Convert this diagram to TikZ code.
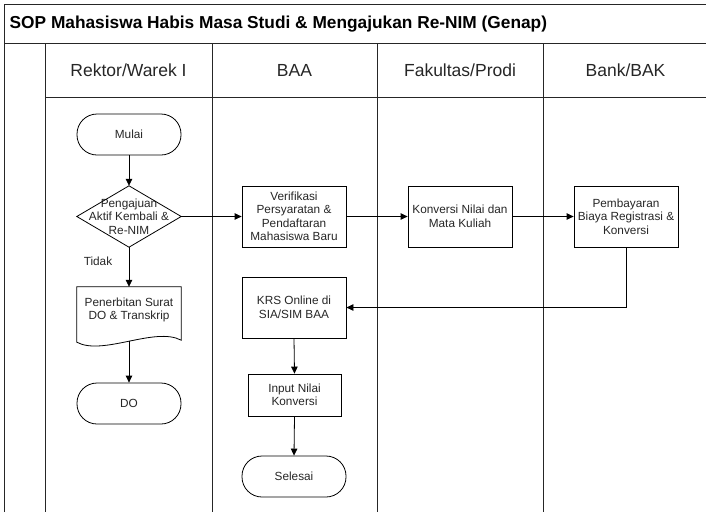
\documentclass[tikz,border=0pt]{standalone}
\usepackage{fontspec}
\setmainfont{Liberation Sans}
\usetikzlibrary{arrows.meta}
\begin{document}
\begin{tikzpicture}[x=1pt,y=-1pt,
  lane/.style={line width=1pt, draw=black!85},
  nodefont/.style={font=\fontsize{11.8}{13.5}\selectfont, text=black!85},
  procbox/.style={draw, line width=0.8pt, minimum width=104pt, minimum height=61pt, inner sep=1pt, align=center, nodefont},
  term/.style={draw, line width=0.8pt, rounded corners=20pt, minimum width=104pt, minimum height=41pt, align=center, nodefont},
  shapebox/.style={minimum width=104pt, inner sep=0pt, align=center, nodefont},
  hdr/.style={font=\fontsize{17.5}{20}\selectfont, text=black!85},
  arr/.style={line width=0.8pt, -{Triangle[length=7pt,width=6.5pt]}},
]
\useasboundingbox (0,0) rectangle (706,512);
% frame and lanes
\draw[lane] (4,512) -- (4,4) -- (706,4);
\draw[lane] (4,43) -- (706,43);
\draw[lane] (45,97) -- (706,97);
\draw[lane] (45,43) -- (45,512);
\draw[lane] (212,43) -- (212,512);
\draw[lane] (377,43) -- (377,512);
\draw[lane] (543,43) -- (543,512);
% title and headers
\node[anchor=west, inner sep=0pt, font=\bfseries\fontsize{17.3}{19}\selectfont] (title) at (9.5,24) {SOP Mahasiswa Habis Masa Studi \& Mengajukan Re-NIM (Genap)};
\node[hdr] (h1) at (128.5,70) {Rektor/Warek I};
\node[hdr] (h2) at (294.5,70) {BAA};
\node[hdr] (h3) at (460,70) {Fakultas/Prodi};
\node[hdr] (h4) at (625.5,70) {Bank/BAK};
% nodes
\node[term] (mulai) at (129,134.5) {Mulai};
\node[shapebox, minimum height=61pt] (dec) at (129,216.5) {Pengajuan\\Aktif Kembali \&\\Re-NIM};
\draw[line width=0.8pt] (dec.north) -- (dec.east) -- (dec.south) -- (dec.west) -- cycle;
\node[procbox] (ver) at (294,216.5) {Verifikasi\\Persyaratan \&\\Pendaftaran\\Mahasiswa Baru};
\node[procbox] (kon) at (460,216.5) {Konversi Nilai dan\\Mata Kuliah};
\node[procbox] (bay) at (626,216.5) {Pembayaran\\Biaya Registrasi \&\\Konversi};
\node[shapebox, minimum height=46pt] (pen) at (129,310) {Penerbitan Surat\\DO \& Transkrip};
\draw[line width=0.8pt] (pen.north west) -- (pen.north east) -- ([yshift=-7pt]pen.south east)
  .. controls ([xshift=-26pt,yshift=7pt]pen.south east) and ([xshift=26pt,yshift=-23pt]pen.south west) .. ([yshift=-9pt]pen.south west) -- cycle;
\node[term] (do) at (129,403.5) {DO};
\node[procbox] (krs) at (294,307.5) {KRS Online di\\SIA/SIM BAA};
\node[procbox, minimum width=93pt, minimum height=42pt] (inp) at (294.5,395) {Input Nilai\\Konversi};
\node[term] (sel) at (294,476.5) {Selesai};
\node[nodefont] (tidak) at (98,261) {Tidak};
% connectors
\draw[arr] (mulai.south) -- (dec.north);
\draw[arr] (dec.east) -- (ver.west);
\draw[arr] (ver.east) -- (kon.west);
\draw[arr] (kon.east) -- (bay.west);
\draw[arr] (bay.south) |- (krs.east);
\draw[arr] (dec.south) -- (pen.north);
\draw[arr] ([yshift=-8pt]pen.south) -- (do.north);
\draw[arr] (krs.south) -- (inp.north);
\draw[arr] (inp.south) -- (sel.north);
\end{tikzpicture}
\end{document}
